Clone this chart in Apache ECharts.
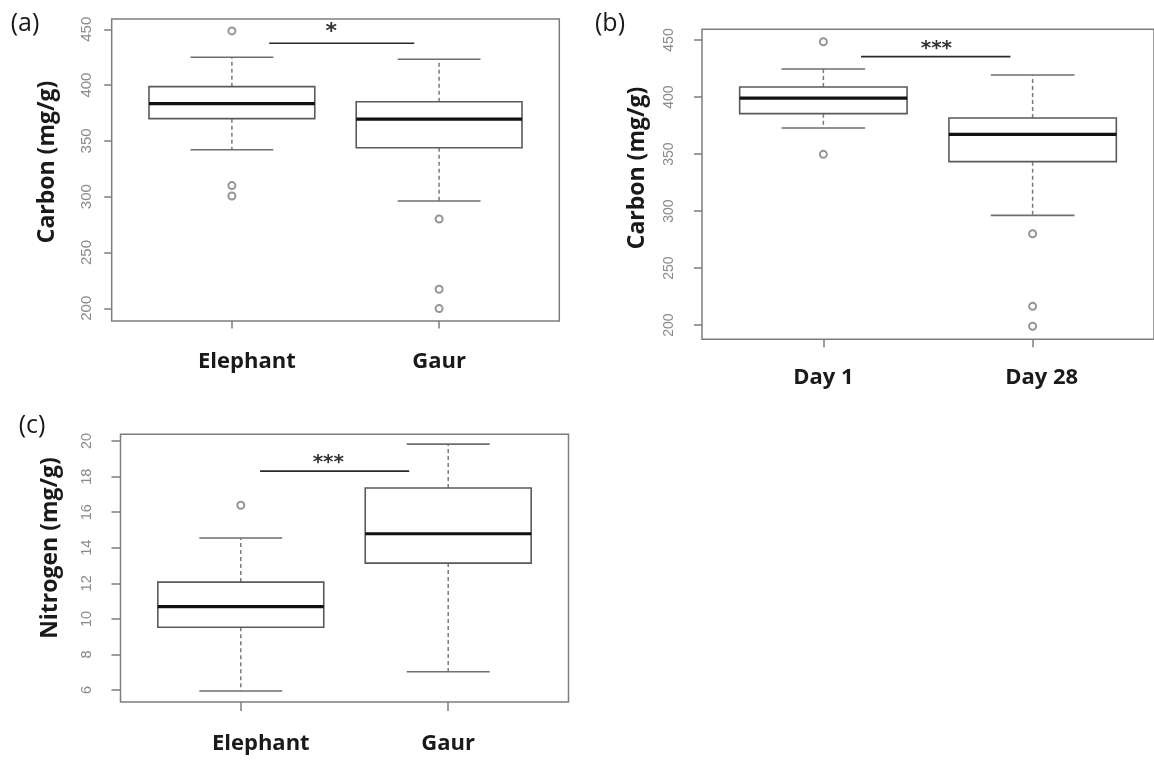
<!DOCTYPE html>
<html><head><meta charset="utf-8">
<script src="https://cdn.jsdelivr.net/npm/echarts@6/dist/echarts.min.js"></script>
<style>html,body{margin:0;padding:0;background:#fff}#chart{width:1154px;height:761px}</style>
</head><body><div id="chart"></div>
<script>
// ---------- DATA ----------
// Box statistics per group: [lower whisker, Q1, median, Q3, upper whisker]
const catsA = ['Elephant', 'Gaur'];
const boxA = [[342.1, 369.9, 383.3, 398.6, 424.9], [296.1, 343.9, 369.4, 385.1, 423.1]];
const outA = [[448.5, 309.9, 300.6], [280.0, 217.0, 199.7]];
const sigA = [1.18, 1.88, 437.5, 1.48, 447.3]; // [from, to, y, label x, label y]
const sigTextA = '*';

const catsB = ['Day 1', 'Day 28'];
const boxB = [[372.8, 385.4, 399.1, 408.8, 424.6], [296.2, 343.3, 367.3, 381.6, 419.3]];
const outB = [[448.5, 349.7], [280.1, 216.4, 198.9]];
const sigB = [1.18, 1.894, 435.4, 1.54, 442.7];
const sigTextB = '***';

const catsC = ['Elephant', 'Gaur'];
const boxC = [[5.95, 9.53, 10.69, 12.07, 14.55], [7.03, 13.14, 14.79, 17.36, 19.83]];
const outC = [[16.39], []];
const sigC = [1.093, 1.812, 18.31, 1.422, 18.75];
const sigTextC = '***';

const ticksCarbon = [200, 250, 300, 350, 400, 450];
const ticksNitrogen = [6, 8, 10, 12, 14, 16, 18, 20];
const yTitleCarbon = 'Carbon (mg/g)';
const yTitleNitrogen = 'Nitrogen (mg/g)';

// ---------- CHART ----------
const chart = echarts.init(document.getElementById('chart'));

const panels = [
  { grid: { left: 111.7, top: 19, width: 447.6, height: 302 }, ymin: 188.6, ymax: 459.2,
    cats: catsA, boxes: boxA, outs: outA, sig: sigA, sigText: sigTextA, ticks: ticksCarbon,
    tickLen: 7.5, labMargin: 17, labSize: 15, xMargin: 30, shift: [30, 0], sigSize: 22 },
  { grid: { left: 702, top: 29.3, width: 457, height: 310 }, ymin: 187.5, ymax: 459.4,
    cats: catsB, boxes: boxB, outs: outB, sig: sigB, sigText: sigTextB, ticks: ticksCarbon,
    tickLen: 8, labMargin: 26, labSize: 14, xMargin: 27, shift: [0, 18], sigSize: 20 },
  { grid: { left: 120.5, top: 434.3, width: 448, height: 267.7 }, ymin: 5.33, ymax: 20.38,
    cats: catsC, boxes: boxC, outs: outC, sig: sigC, sigText: sigTextC, ticks: ticksNitrogen,
    tickLen: 9, labMargin: 26, labSize: 14.5, xMargin: 31, shift: [40, 0], sigSize: 20 }
];

function renderBox(params, api) {
  const x = api.value(0);
  const lw = api.value(1), q1 = api.value(2), med = api.value(3), q3 = api.value(4), uw = api.value(5);
  const hw = 0.4, sw = 0.2;
  const c = (a, b) => api.coord([a, b]);
  const line = (p1, p2, style) => ({ type: 'line', shape: { x1: p1[0], y1: p1[1], x2: p2[0], y2: p2[1] }, style });
  const dash = { stroke: '#7a7a7a', lineWidth: 1.5, lineDash: [4, 3] };
  const cap = { stroke: '#6e6e6e', lineWidth: 1.6 };
  const tl = c(x - hw, q3), br = c(x + hw, q1);
  return {
    type: 'group',
    children: [
      line(c(x, q3), c(x, uw), dash),
      line(c(x, q1), c(x, lw), dash),
      line(c(x - sw, uw), c(x + sw, uw), cap),
      line(c(x - sw, lw), c(x + sw, lw), cap),
      { type: 'rect', shape: { x: tl[0], y: tl[1], width: br[0] - tl[0], height: br[1] - tl[1] },
        style: { fill: '#fff', stroke: '#5a5a5a', lineWidth: 1.6 } },
      line(c(x - hw, med), c(x + hw, med), { stroke: '#111', lineWidth: 3.2 })
    ]
  };
}

function renderSig(text, size) {
  return function (params, api) {
    const p1 = api.coord([api.value(0), api.value(2)]);
    const p2 = api.coord([api.value(1), api.value(2)]);
    const pl = api.coord([api.value(3), api.value(4)]);
    return {
      type: 'group',
      children: [
        { type: 'line', shape: { x1: p1[0], y1: p1[1], x2: p2[0], y2: p2[1] }, style: { stroke: '#2a2a2a', lineWidth: 1.6 } },
        { type: 'text', x: pl[0], y: pl[1], style: { text: text, fill: '#333', font: 'bold ' + size + 'px "DejaVu Sans"', textAlign: 'center', textVerticalAlign: 'middle' } }
      ]
    };
  };
}

const grid = [], xAxis = [], yAxis = [], series = [];
panels.forEach((p, i) => {
  grid.push(Object.assign({ show: true, borderColor: '#7d7d7d', borderWidth: 1.5, backgroundColor: 'transparent' }, p.grid));
  const rich = {};
  p.cats.forEach((name, k) => {
    rich['s' + k] = { fontFamily: 'Open Sans', fontWeight: 'bold', fontSize: 22, color: '#1a1a1a', padding: [0, 0, 0, p.shift[k]] };
  });
  xAxis.push({
    type: 'value', gridIndex: i, min: 0.42, max: 2.58,
    axisLine: { show: false }, splitLine: { show: false },
    axisTick: { show: true, customValues: [1, 2], length: p.tickLen, lineStyle: { color: '#7d7d7d', width: 1.5 } },
    axisLabel: { show: true, customValues: [1, 2], margin: p.xMargin,
      formatter: v => { const k = Math.round(v) - 1; return '{s' + k + '|' + p.cats[k] + '}'; }, rich: rich }
  });
  yAxis.push({
    type: 'value', gridIndex: i, min: p.ymin, max: p.ymax,
    axisLine: { show: false }, splitLine: { show: false },
    axisTick: { show: true, customValues: p.ticks, length: p.tickLen, lineStyle: { color: '#7d7d7d', width: 1.5 } },
    axisLabel: { show: true, customValues: p.ticks, rotate: 90, margin: p.labMargin,
      fontFamily: 'Liberation Sans', fontSize: p.labSize, color: '#8a8a8a' }
  });
  series.push({
    type: 'custom', xAxisIndex: i, yAxisIndex: i, renderItem: renderBox,
    encode: { x: 0, y: [1, 2, 3, 4, 5] },
    data: p.boxes.map((b, k) => [k + 1].concat(b)), z: 2
  });
  const pts = [];
  p.outs.forEach((arr, k) => arr.forEach(v => pts.push([k + 1, v])));
  series.push({
    type: 'scatter', xAxisIndex: i, yAxisIndex: i, symbol: 'emptyCircle', symbolSize: 7,
    itemStyle: { color: '#7a7a7a', borderWidth: 1.3 }, data: pts, z: 3, silent: true
  });
  series.push({
    type: 'custom', xAxisIndex: i, yAxisIndex: i, renderItem: renderSig(p.sigText, p.sigSize),
    encode: { x: [0, 1, 3], y: [2, 4] }, data: [p.sig], z: 4
  });
});

const txt = (t, x, y, size, bold, rot) => ({
  type: 'text', x: x, y: y, rotation: rot || 0,
  style: { text: t, fill: '#1a1a1a', font: (bold ? 'bold ' : '') + size + 'px "Open Sans"', textAlign: 'center', textVerticalAlign: 'middle' }
});

chart.setOption({
  animation: false,
  grid, xAxis, yAxis, series,
  graphic: [
    txt('(a)', 25, 24, 25, false),
    txt('(b)', 610, 24, 25, false),
    txt('(c)', 32, 426, 25, false),
    txt(yTitleCarbon, 47, 162, 23, true, Math.PI / 2),
    txt(yTitleCarbon, 637, 168, 23, true, Math.PI / 2),
    txt(yTitleNitrogen, 50, 548, 23, true, Math.PI / 2)
  ]
});
</script>
</body></html>
